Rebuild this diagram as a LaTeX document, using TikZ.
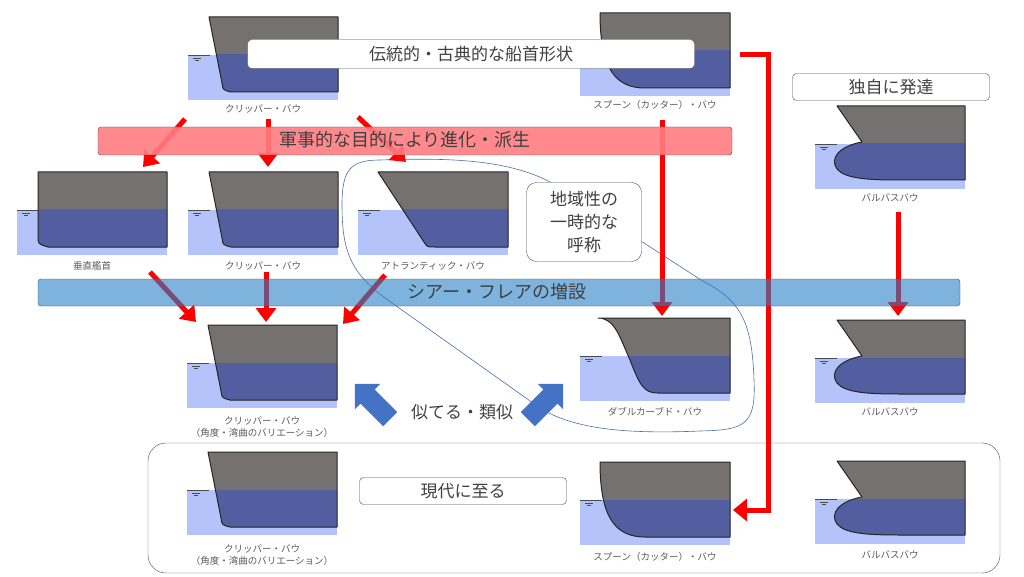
\documentclass[tikz,border=0pt]{standalone}
\usepackage{fontspec}
\setmainfont{Noto Sans CJK JP}
\usetikzlibrary{shapes.arrows,arrows.meta}

\definecolor{waterblue}{HTML}{B4C3FA}
\definecolor{hullgrey}{HTML}{767171}
\definecolor{hullblue}{HTML}{525E9F}
\definecolor{barred}{HTML}{FF7C80}
\definecolor{barblue}{HTML}{2680C6}
\definecolor{loopblue}{HTML}{4A6FA5}
\definecolor{bigblue}{HTML}{4472C4}

\tikzset{
    title/.style={draw=black!70, rounded corners=4pt, fill=white, font=\fontsize{17}{20}\selectfont, text=black!75},
    label/.style={font=\fontsize{9.5}{12}\selectfont, text=black!65, align=center},
    redarrow/.style={draw=red, line width=5pt, -{Triangle[length=14pt, width=20pt]}},
    bigarrow/.style={single arrow, fill=bigblue, draw=none, minimum height=50pt, minimum width=36pt, single arrow head extend=5pt, inner sep=6pt},
}

% hull outlines, local coordinates
\newcommand{\clipperhull}{(21,0) -- (34,66) .. controls (35,73) .. (43,75) -- (150,75) -- (150,0) -- cycle}
\newcommand{\spoonhull}{(20,0) .. controls (20,55) and (35,75) .. (65,75) -- (150,75) -- (150,0) -- cycle}
\newcommand{\atlantichull}{(20,0) -- (66,70) .. controls (69,75) .. (77,75) -- (150,75) -- (150,0) -- cycle}
\newcommand{\verticalhull}{(21,0) -- (21,64) .. controls (21,72) .. (31,75) -- (150,75) -- (150,0) -- cycle}
\newcommand{\doublehull}{(18,0) .. controls (35,0) and (40,20) .. (50,42) .. controls (60,68) and (64,75) .. (78,75) -- (150,75) -- (150,0) -- cycle}
\newcommand{\bulbhull}{(22,0) -- (47,36) .. controls (25,40) and (14,52) .. (22,63) .. controls (30,73) and (55,74) .. (85,74) -- (150,74) -- (150,0) -- cycle}

% one bow picture: x, y, hull
\newcommand{\bowicon}[3]{%
  \begin{scope}[shift={(#1,#2)}]
    \fill[waterblue] (0,38) rectangle (150,83);
    \fill[hullgrey] #3;
    \begin{scope}
      \clip (0,38) rectangle (150,83);
      \fill[hullblue] #3;
    \end{scope}
    \draw[line width=1pt, line join=round, black!85] #3;
    \draw[black!70, line width=0.6pt] (0,38) -- (22,38) (5,41) -- (13,41) (7,43.5) -- (11,43.5);
  \end{scope}}

\begin{document}
\begin{tikzpicture}[x=1pt, y=-1pt]
\useasboundingbox (0,0) rectangle (1024,577);

% frame of today's bows
\draw[black!70, rounded corners=18pt] (148,443) rectangle (1000,573);

% region loop
\draw[loopblue, line width=0.6pt] (342,205) .. controls (342,170) and (350,160) .. (380,160)
    .. controls (440,158) and (505,158) .. (550,182) -- (701,280)
    .. controls (740,300) and (752,320) .. (754,380)
    .. controls (756,425) and (745,430) .. (700,431)
    .. controls (630,434) and (575,430) .. (540,408) -- (385,298)
    .. controls (350,272) and (342,250) .. (342,205);

% bows
\bowicon{188}{17}{\clipperhull}
\bowicon{580}{13}{\spoonhull}
\bowicon{815}{106}{\bulbhull}
\bowicon{17}{172}{\verticalhull}
\bowicon{188}{172}{\clipperhull}
\bowicon{358}{172}{\atlantichull}
\bowicon{187}{325}{\clipperhull}
\bowicon{580}{318}{\doublehull}
\bowicon{815}{320}{\bulbhull}
\bowicon{187}{452}{\clipperhull}
\bowicon{580}{462}{\spoonhull}
\bowicon{815}{461}{\bulbhull}

% names under the bows
\node[label] (clip1) at (263,109) {クリッパー・バウ};
\node[label] (spoon1) at (655,105) {スプーン（カッター）・バウ};
\node[label] (bulb1) at (890,198) {バルバスバウ};
\node[label] (vert) at (92,266) {垂直艦首};
\node[label] (clip2) at (263,266) {クリッパー・バウ};
\node[label] (atl) at (433,266) {アトランティック・バウ};
\node[label] (clip3) at (262,427) {クリッパー・バウ\\（角度・湾曲のバリエーション）};
\node[label] (dbl) at (655,412) {ダブルカーブド・バウ};
\node[label] (bulb2) at (890,412) {バルバスバウ};
\node[label] (clip4) at (262,555) {クリッパー・バウ\\（角度・湾曲のバリエーション）};
\node[label] (spoon2) at (655,557) {スプーン（カッター）・バウ};
\node[label] (bulb3) at (890,555) {バルバスバウ};

% arrow ends
\coordinate (a1s) at (185,119); \coordinate (a1e) at (143,167);
\coordinate (a2s) at (268,119); \coordinate (a2e) at (268,167);
\coordinate (a3s) at (358,117); \coordinate (a3e) at (406,162);
\coordinate (b1s) at (150,272); \coordinate (b1e) at (196,322);
\coordinate (b2s) at (266,272); \coordinate (b2e) at (266,322);
\coordinate (b3s) at (385,275); \coordinate (b3e) at (343,324);
\coordinate (s1s) at (662,120); \coordinate (s1e) at (662,316);
\coordinate (u1s) at (898,212); \coordinate (u1e) at (898,316);
\coordinate (r1) at (740,55); \coordinate (r2) at (768,55);
\coordinate (r3) at (768,510); \coordinate (r4) at (733,510);

\draw[redarrow] (a1s) -- (a1e);
\draw[redarrow] (a2s) -- (a2e);
\draw[redarrow] (a3s) -- (a3e);
\draw[redarrow] (b1s) -- (b1e);
\draw[redarrow] (b2s) -- (b2e);
\draw[redarrow] (b3s) -- (b3e);
\draw[redarrow] (s1s) -- (s1e);
\draw[redarrow] (u1s) -- (u1e);
\draw[redarrow, -{Triangle[length=14pt, width=22pt]}] (r1) -- (r2) -- (r3) -- (r4);

% bars
\draw[black!70, rounded corners=3pt, fill=barred, fill opacity=0.9] (98,127) rectangle (732,155);
\node[font=\fontsize{18}{20}\selectfont, text=black!75] (military) at (405,140) {軍事的な目的により進化・派生};
\draw[black!70, rounded corners=3pt, fill=barblue, fill opacity=0.6] (38,279) rectangle (960,306);
\node[font=\fontsize{18}{20}\selectfont, text=black!75] (sheer) at (497,292) {シアー・フレアの増設};

% titles
\node[title, minimum width=447pt, minimum height=29pt] (trad) at (471,54) {伝統的・古典的な船首形状};
\node[title, minimum width=197pt, minimum height=27pt] (own) at (891,87) {独自に発達};
\node[title, align=center, rounded corners=10pt, minimum width=115pt, minimum height=79pt, inner sep=2pt, font=\fontsize{17}{23}\selectfont] (local) at (584,222) {地域性の\\一時的な\\呼称};
\node[title, minimum width=207pt, minimum height=27pt] (modern) at (463,491) {現代に至る};

% similar
\node[bigarrow, rotate=135] (simL) at (376,405) {};
\node[bigarrow, rotate=45] (simR) at (542,405) {};
\node[font=\fontsize{17}{20}\selectfont, text=black!75] (similar) at (462,412) {似てる・類似};

\end{tikzpicture}
\end{document}
